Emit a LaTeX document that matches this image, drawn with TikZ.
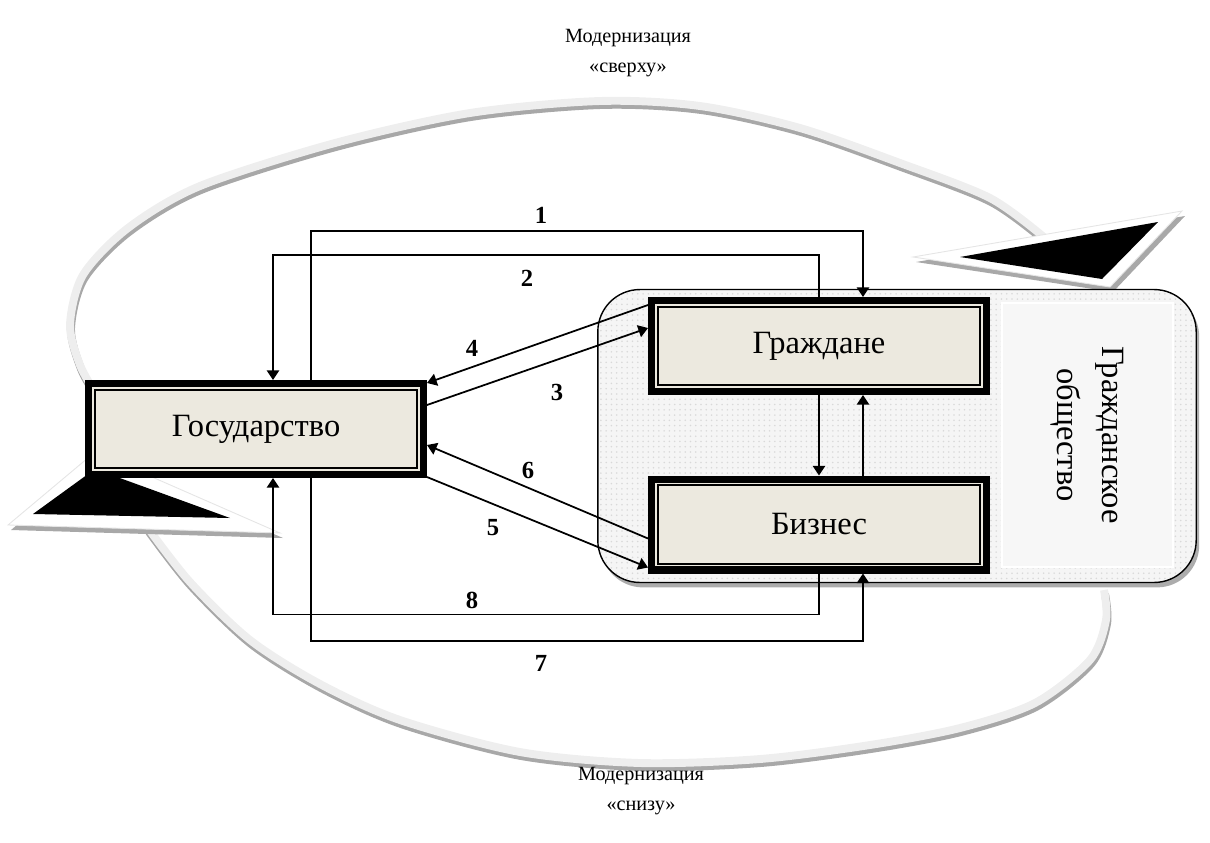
\documentclass[tikz,border=0pt]{standalone}
\usepackage{fontspec}
\setmainfont{Liberation Serif}
\usetikzlibrary{arrows.meta, calc, patterns, shadows}
\definecolor{boxbeige}{HTML}{ECE9DF}
\definecolor{bandlight}{HTML}{EEEEEE}
\definecolor{bandshade}{HTML}{A8A8A8}
\tikzstyle{actor} = [
    rectangle,
    minimum width=6.7cm,
    minimum height=1.82cm,
    text centered,
    draw=black,
    line width=4pt,
    fill=boxbeige,
    font=\fontsize{18.5}{22}\selectfont,
    path picture={\draw[line width=1pt] ($(path picture bounding box.north west)+(3.6pt,-3.6pt)$) rectangle ($(path picture bounding box.south east)+(-3.6pt,3.6pt)$);}
]
\tikzstyle{society} = [
    rectangle,
    rounded corners=24pt,
    minimum width=11.97cm,
    minimum height=5.86cm,
    draw=black,
    line width=0.8pt,
    drop shadow={shadow xshift=1.7pt, shadow yshift=-2.8pt, fill=gray!65, opacity=1},
    preaction={fill=gray!8},
    pattern=dots,
    pattern color=gray!30
]
\tikzstyle{panel} = [
    rectangle,
    minimum width=5.28cm,
    minimum height=3.42cm,
    draw=white,
    line width=1pt,
    fill=gray!6,
    align=center,
    font=\fontsize{18.5}{25.5}\selectfont
]
\tikzstyle{arrow} = [
    line width=1pt,
    ->
]
\tikzstyle{band} = [line width=4.5pt, draw=bandlight]
\tikzstyle{bandshadow} = [line width=4.5pt, draw=bandshade]
\tikzstyle{headwhite} = [fill=white, draw=gray!20, line width=0.5pt]
\tikzstyle{headshadow} = [fill=bandshade]
\tikzstyle{num} = [font=\fontsize{14}{16}\selectfont\bfseries]
\tikzstyle{caption} = [align=center, font=\fontsize{11.5}{17.5}\selectfont]

\begin{document}
\begin{tikzpicture}[x=0.02cm, y=-0.02cm, >={Triangle[length=5.5pt, width=7pt]}]
        \useasboundingbox (0,0) rectangle (1210,842);

        % modernisation arrows
        \draw[bandshadow, shift={(1,4)}] plot[smooth] coordinates {(95,392) (80,365) (70,325) (83,275) (128,228) (200,186) (335,143) (470,113) (600,101) (700,106) (800,128) (900,163) (990,198) (1045,238)};
        \draw[band] plot[smooth] coordinates {(95,392) (80,365) (70,325) (83,275) (128,228) (200,186) (335,143) (470,113) (600,101) (700,106) (800,128) (900,163) (990,198) (1045,238)};
        \draw[bandshadow, shift={(1,4)}] plot[smooth] coordinates {(148,528) (190,582) (250,640) (320,684) (400,720) (520,752) (640,763) (760,759) (870,745) (960,728) (1035,703) (1090,660) (1106,620) (1104,590)};
        \draw[band] plot[smooth] coordinates {(148,528) (190,582) (250,640) (320,684) (400,720) (520,752) (640,763) (760,759) (870,745) (960,728) (1035,703) (1090,660) (1106,620) (1104,590)};

        \fill[headshadow] (916,262) -- (1185,216) -- (1113,292) -- cycle;
        \filldraw[headwhite] (913,257) -- (1182,211) -- (1110,287) -- cycle;
        \fill (960,257) -- (1158,222) -- (1102,279) -- cycle;
        \fill[headshadow] (11,530) -- (98,457) -- (283,538) -- cycle;
        \filldraw[headwhite] (8,525) -- (95,452) -- (280,533) -- cycle;
        \fill (33,514) -- (95,469) -- (230,518) -- cycle;

        \node (top) [caption] at (628,53) {Модернизация\\«сверху»};
        \node (bottom) [caption] at (641,791) {Модернизация\\«снизу»};

        % civil society
        \node (soc) [society] at (897,436) {};
        \node (panel) [panel, rotate=-90] at (1087.5,435) {Гражданское\\общество};

        \node (gos) [actor] at (256,429) {Государство};
        \node (grazh) [actor] at (819,346) {Граждане};
        \node (biz) [actor] at (819,524.5) {Бизнес};

        \draw[arrow] ($(gos.north)+(55,0)$) -- ++(0,-149) -| ($(grazh.north)+(44,0)$);
        \draw[arrow] (grazh.north) -- ++(0,-42) -| ($(gos.north)+(17,0)$);
        \draw[arrow] ($(gos.north east)+(0,25)$) -- ($(grazh.north west)+(0,31)$);
        \draw[arrow] ($(grazh.north west)+(0,8)$) -- ($(gos.north east)+(0,3)$);
        \draw[arrow] ($(gos.south east)+(0,-1)$) -- ($(biz.south west)+(0,-6)$);
        \draw[arrow] ($(biz.south west)+(0,-35)$) -- ($(gos.north east)+(0,65)$);
        \draw[arrow] ($(gos.south)+(55,0)$) -- ++(0,163) -| ($(biz.south)+(44,0)$);
        \draw[arrow] (biz.south) -- ++(0,41) -| ($(gos.south)+(17,0)$);
        \draw[arrow] (grazh.south) -- (biz.north);
        \draw[arrow] ($(biz.north)+(44,0)$) -- ($(grazh.south)+(44,0)$);

        \node (n1) [num] at (541,215) {1};
        \node (n2) [num] at (527,278) {2};
        \node (n3) [num] at (557,392) {3};
        \node (n4) [num] at (472,348) {4};
        \node (n5) [num] at (493,528) {5};
        \node (n6) [num] at (528,470) {6};
        \node (n7) [num] at (541,663) {7};
        \node (n8) [num] at (472,600) {8};
    \end{tikzpicture}
\end{document}
